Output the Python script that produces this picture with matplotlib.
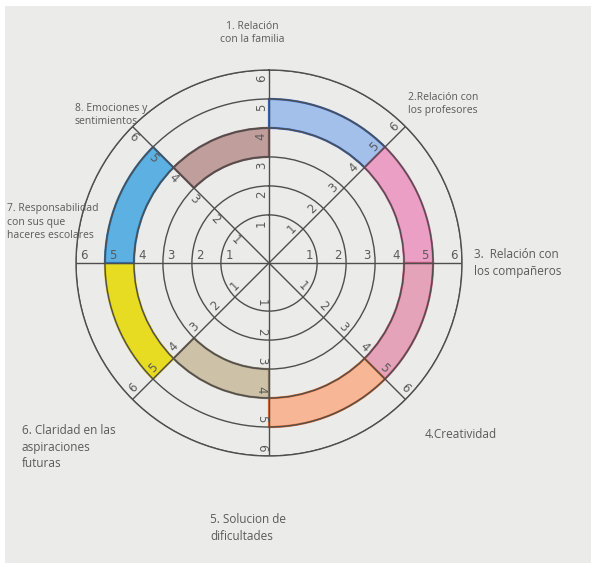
import numpy as np
import matplotlib
matplotlib.use("Agg")
import matplotlib.pyplot as plt
from matplotlib.patches import Rectangle

# ---- data ----
categories = [
    "1. Relación\ncon la familia",
    "2.Relación con\nlos profesores",
    "3.  Relación con\nlos compañeros",
    "4.Creatividad",
    "5. Solucion de\ndificultades",
    "6. Claridad en las\naspiraciones\nfuturas",
    "7. Responsabilidad\ncon sus que\nhaceres escolares",
    "8. Emociones y\nsentimientos",
]
# colored band for each sector (clockwise from the top)
band_inner = [4, 4, 4, 4, 3, 4, 4, 3]
band_outer = [5, 5, 5, 5, 4, 5, 5, 4]
scale_values = [1, 2, 3, 4, 5, 6]

fill_colors = ["#a3c0ea", "#eb9fc4", "#e4a3b8", "#f7b796", "#cdc2a8",
               "#e8dc22", "#5db0e2", "#bf9e9c"]
edge_colors = ["#3566c4", "#d0689a", "#c45a78", "#e56d2c", "#8c7c62",
               "#d6c412", "#2b78b6", "#7d5656"]

paper = "#ebebe9"
line_c = "#4e4e4e"
text_c = "#5a5a5a"

W, H = 596, 569
fig = plt.figure(figsize=(W / 100, H / 100), dpi=100)
fig.patch.set_facecolor(paper)
# white photo frame
for (x, y, w, h) in [(0, 0, 1, 6 / H), (0, 1 - 6 / H, 1, 6 / H), (0, 0, 5 / W, 1), (1 - 5 / W, 0, 5 / W, 1)]:
    fig.patches.append(Rectangle((x, y), w, h, transform=fig.transFigure,
                                 facecolor="white", edgecolor="none", zorder=10))

cx, cy, R = 269, 263, 193
ax = fig.add_axes([(cx - R) / W, (H - cy - R) / H, 2 * R / W, 2 * R / H],
                  projection="polar")
ax.set_facecolor(paper)
ax.set_theta_zero_location("N")
ax.set_theta_direction(-1)
rmin = -0.66
ax.set_ylim(rmin, 6)

n = len(categories)
width = 2 * np.pi / n
centers = (np.arange(n) + 0.5) * width
ax.bar(centers, np.array(band_outer) - np.array(band_inner), width=width,
       bottom=band_inner, color=fill_colors, edgecolor=edge_colors,
       linewidth=1.6, zorder=2)

ax.set_rgrids(scale_values, labels=[""] * len(scale_values))
ax.set_thetagrids(np.degrees(np.arange(n) * width), labels=[""] * n)
ax.grid(True, color=line_c, linewidth=1.0, zorder=3)
ax.set_axisbelow(False)
ax.spines["polar"].set_color(line_c)
ax.spines["polar"].set_linewidth(1.0)
ax.tick_params(length=0)

# numbers along each radial line
for k in range(n):
    th_compass = k * 45.0                 # clockwise from north
    math_ang = 90.0 - th_compass          # counter-clockwise from east
    math_ang = (math_ang + 360) % 360
    if math_ang in (180.0, 225.0, 270.0):
        perp = math_ang - 90
    else:
        perp = math_ang + 90
    if math_ang in (0.0, 180.0):
        rot = 0
    elif math_ang == 90.0:
        rot = 90
    elif math_ang == 270.0:
        rot = -90
    elif math_ang == 45.0:
        rot = 45
    elif math_ang == 315.0:
        rot = -45
    elif math_ang == 225.0:
        rot = 45
    else:
        rot = -45
    dx = 5.5 * np.cos(np.radians(perp))
    dy = 5.5 * np.sin(np.radians(perp))
    for v in scale_values:
        ax.annotate(str(v), xy=(np.radians(th_compass), v - 0.28),
                    xytext=(dx, dy), textcoords="offset points",
                    ha="center", va="center", rotation=rot,
                    fontsize=8.5, color=text_c, zorder=5,
                    annotation_clip=False)

# category labels (pixel positions of the text)
label_pos = [
    (252, 33, "center"),
    (408, 104, "left"),
    (474, 263, "left"),
    (425, 435, "left"),
    (210, 528, "left"),
    (22, 447, "left"),
    (7, 222, "left"),
    (75, 115, "left"),
]
fsizes = [7.5, 7.5, 8.5, 8.5, 8.5, 8.5, 7.5, 7.5]
for (x, y, ha), lab, fs in zip(label_pos, categories, fsizes):
    fig.text(x / W, 1 - y / H, lab, ha=ha, va="center", fontsize=fs,
             color=text_c, family="Open Sans", linespacing=1.35)

fig.savefig("out.png", dpi=100, facecolor=fig.get_facecolor())
